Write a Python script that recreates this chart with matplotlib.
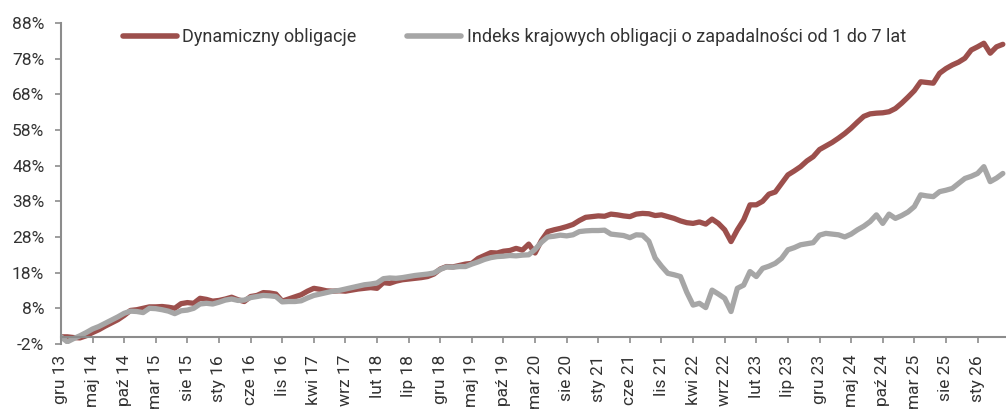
import matplotlib
matplotlib.use("Agg")
import matplotlib.pyplot as plt
import numpy as np

plt.rcParams['font.family'] = ['Roboto', 'DejaVu Sans']

# monthly values, Dec 2013 onwards (index 0 = gru 13)
dynamiczny = [
    0.0, 0.0, -0.2, -0.3, 0.3, 1.2, 2.0, 3.0, 3.9, 4.8,
    6.0, 7.4, 7.6, 8.0, 8.4, 8.4, 8.5, 8.3, 8.0, 9.3,
    9.6, 9.4, 10.8, 10.5, 10.0, 10.2, 10.6, 11.1, 10.4, 9.9,
    11.3, 11.6, 12.4, 12.3, 12.0, 10.0, 10.6, 11.2, 11.8, 12.8,
    13.6, 13.3, 12.9, 12.8, 12.9, 12.8, 13.1, 13.4, 13.6, 13.8,
    13.6, 15.2, 15.0, 15.6, 16.0, 16.2, 16.4, 16.6, 16.9, 17.6,
    19.0, 19.7, 19.6, 20.0, 20.4, 20.6, 22.0, 22.8, 23.6, 23.5,
    24.0, 24.2, 24.8, 24.3, 26.0, 23.5, 27.0, 29.5, 30.0, 30.4,
    30.9, 31.5, 32.6, 33.5, 33.7, 33.9, 33.8, 34.4, 34.2, 33.9,
    33.7, 34.4, 34.6, 34.5, 34.0, 34.2, 33.7, 33.2, 32.5, 32.0,
    31.8, 32.2, 31.6, 33.0, 31.8, 30.0, 26.7, 30.0, 32.8, 37.0,
    37.0, 38.0, 40.0, 40.6, 43.0, 45.4, 46.5, 47.7, 49.3, 50.5,
    52.5, 53.5, 54.5, 55.7, 57.0, 58.5, 60.2, 61.8, 62.5, 62.7,
    62.8, 63.1, 64.0, 65.5, 67.2, 69.0, 71.5, 71.3, 71.1, 73.9,
    75.2, 76.2, 77.0, 78.1, 80.4, 81.3, 82.3, 79.5, 81.3, 82.0,
]

indeks = [
    0.0, -1.4, -0.5, 0.3, 1.2, 2.2, 2.9, 3.8, 4.7, 5.6,
    6.6, 7.2, 7.1, 6.8, 8.0, 7.9, 7.6, 7.2, 6.5, 7.3,
    7.5, 8.0, 9.2, 9.4, 9.2, 9.7, 10.3, 10.6, 10.2, 10.3,
    11.0, 11.3, 11.6, 11.5, 11.3, 9.8, 9.9, 9.9, 10.1, 10.9,
    11.6, 12.0, 12.4, 12.8, 13.0, 13.4, 13.8, 14.2, 14.6, 14.8,
    15.1, 16.3, 16.5, 16.4, 16.6, 16.9, 17.2, 17.4, 17.6, 17.9,
    18.9, 19.6, 19.5, 19.7, 19.7, 20.4, 21.0, 21.7, 22.2, 22.5,
    22.6, 22.8, 22.7, 22.9, 23.0, 24.5, 26.5, 28.0, 28.2, 28.5,
    28.3, 28.6, 29.5, 29.7, 29.8, 29.8, 29.9, 28.8, 28.6, 28.4,
    27.8, 28.6, 28.5, 26.8, 22.1, 19.8, 17.8, 17.4, 16.9, 12.5,
    8.9, 9.4, 8.2, 13.1, 12.0, 10.8, 7.1, 13.6, 14.5, 18.3,
    16.9, 19.2, 19.8, 20.6, 22.0, 24.4, 25.0, 25.8, 26.1, 26.4,
    28.5, 29.0, 28.8, 28.6, 28.0, 28.8, 30.0, 31.0, 32.3, 34.2,
    31.8, 34.4, 33.2, 34.0, 35.0, 36.5, 39.8, 39.5, 39.3, 40.7,
    41.1, 41.6, 43.0, 44.4, 45.0, 45.8, 47.7, 43.5, 44.5, 45.8,
]

tick_labels = [
    "gru 13", "maj 14", "paź 14", "mar 15", "sie 15", "sty 16", "cze 16",
    "lis 16", "kwi 17", "wrz 17", "lut 18", "lip 18", "gru 18", "maj 19",
    "paź 19", "mar 20", "sie 20", "sty 21", "cze 21", "lis 21", "kwi 22",
    "wrz 22", "lut 23", "lip 23", "gru 23", "maj 24", "paź 24", "mar 25",
    "sie 25", "sty 26",
]
y_ticks = [-2, 8, 18, 28, 38, 48, 58, 68, 78, 88]

red = "#9c4f4c"
grey = "#a6a6a6"
axis_col = "#8c8c8c"
text_col = "#333333"

x = np.arange(len(dynamiczny))

fig = plt.figure(figsize=(10.06, 4.09), dpi=100)
ax = fig.add_axes([0.0606, 0.159, 0.9394, 0.785])

ax.plot(x, dynamiczny, color=red, lw=3.8, solid_capstyle="round",
        solid_joinstyle="round", label="Dynamiczny obligacje")
ax.plot(x, indeks, color=grey, lw=3.8, solid_capstyle="round",
        solid_joinstyle="round",
        label="Indeks krajowych obligacji o zapadalności od 1 do 7 lat")

ax.set_xlim(0, 149.5)
ax.set_ylim(-2, 88)

ax.set_yticks(y_ticks)
ax.set_yticklabels([f"{v}%" for v in y_ticks])
ax.set_xticks(np.arange(0, len(tick_labels) * 5, 5))
ax.set_xticklabels(tick_labels)

for side in ["top", "right"]:
    ax.spines[side].set_visible(False)
ax.spines["bottom"].set_position(("data", 0))
for side in ["left", "bottom"]:
    ax.spines[side].set_color(axis_col)
    ax.spines[side].set_linewidth(1.5)

ax.tick_params(axis="both", colors=axis_col, labelcolor=text_col,
               labelsize=12.5, length=4, width=1.2, pad=8)
ax.tick_params(axis="x", pad=9, labelrotation=90)

leg = ax.legend(loc="upper left", ncol=2, frameon=False, fontsize=13,
                handlelength=3.0, handletextpad=0.3, columnspacing=2.8,
                bbox_to_anchor=(0.048, 1.035), labelcolor=text_col)
for line in leg.get_lines():
    line.set_linewidth(4)

fig.savefig("out.png", dpi=100)
